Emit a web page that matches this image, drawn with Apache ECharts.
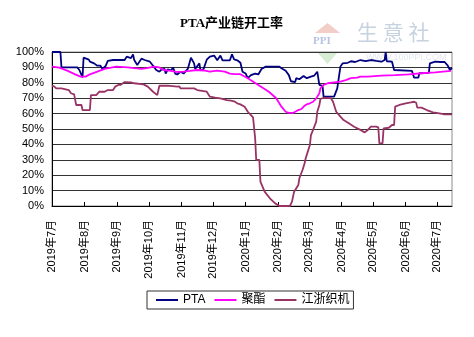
<!DOCTYPE html>
<html>
<head>
<meta charset="utf-8">
<script src="https://cdn.jsdelivr.net/npm/echarts@6/dist/echarts.min.js"></script>
<style>
html,body{margin:0;padding:0;background:#fff;}
#chart{width:474px;height:337px;}
</style>
</head>
<body>
<div id="chart"></div>
<script>
// ---- Data ----
var seriesNames = ['PTA', '聚酯', '江浙织机'];

var tickDates = ['2019-07-01','2019-08-01','2019-09-01','2019-10-01','2019-11-01','2019-12-01',
  '2020-01-01','2020-02-01','2020-03-01','2020-04-01','2020-05-01','2020-06-01','2020-07-01'];
var tickLabels = ['2019年7月','2019年8月','2019年9月','2019年10月','2019年11月','2019年12月',
  '2020年1月','2020年2月','2020年3月','2020年4月','2020年5月','2020年6月','2020年7月'];

var ptaData = [
  ['2019-07-01',100],['2019-07-09',100],['2019-07-10',90],['2019-07-25',90],['2019-07-27',88.3],
  ['2019-07-30',83.5],['2019-07-31',96.3],['2019-08-05',95],['2019-08-06',93.7],['2019-08-10',92.6],
  ['2019-08-13',91.1],['2019-08-16',91.1],['2019-08-18',89],['2019-08-21',91],['2019-08-23',94.2],
  ['2019-08-28',94.8],['2019-09-08',94.8],['2019-09-10',97],['2019-09-11',98],['2019-09-14',96],
  ['2019-09-16',98.5],['2019-09-17',95],['2019-09-20',91.5],['2019-09-24',95.7],['2019-09-27',94.8],
  ['2019-10-02',93.7],['2019-10-05',91.1],['2019-10-08',88.3],['2019-10-11',87.2],['2019-10-13',88.5],
  ['2019-10-16',89],['2019-10-17',86],['2019-10-19',88.8],['2019-10-22',88],['2019-10-24',90],
  ['2019-10-26',86],['2019-10-28',85.4],['2019-10-31',87.2],['2019-11-03',86],['2019-11-07',89],
  ['2019-11-10',96.3],['2019-11-13',92.6],['2019-11-14',89],['2019-11-18',92.6],['2019-11-19',88],
  ['2019-11-22',89],['2019-11-25',95],['2019-11-28',97],['2019-12-02',97.7],['2019-12-05',94.6],
  ['2019-12-08',97.7],['2019-12-10',94.6],['2019-12-17',94.6],['2019-12-19',98.5],['2019-12-21',95.2],
  ['2019-12-24',94.6],['2019-12-27',93],['2019-12-29',87.2],['2020-01-01',86],['2020-01-03',83],
  ['2020-01-06',85],['2020-01-10',86],['2020-01-13',85.4],['2020-01-16',89],['2020-01-20',90.5],
  ['2020-02-02',90.5],['2020-02-04',89.4],['2020-02-08',87.8],['2020-02-11',85],['2020-02-13',81],
  ['2020-02-17',80.5],['2020-02-18',83],['2020-02-21',82.3],['2020-02-25',84.4],['2020-02-28',83],
  ['2020-03-03',84],['2020-03-06',84.6],['2020-03-09',87.2],['2020-03-10',87],['2020-03-11',78.6],
  ['2020-03-14',78],['2020-03-15',71],['2020-03-25',71],['2020-03-28',76.4],['2020-03-31',90.5],
  ['2020-04-02',92.6],['2020-04-07',93],['2020-04-10',94],['2020-04-14',93.5],['2020-04-19',94.8],
  ['2020-04-24',94],['2020-04-29',94.8],['2020-05-04',94.2],['2020-05-09',93.7],['2020-05-12',94.8],
  ['2020-05-13',100],['2020-05-14',94],['2020-05-19',93.7],['2020-05-21',88.3],['2020-06-07',87.7],
  ['2020-06-09',83.3],['2020-06-13',83.3],['2020-06-14',86.2],['2020-06-23',86.5],['2020-06-24',92.6],
  ['2020-06-29',93.7],['2020-07-04',93.5],['2020-07-08',93.5],['2020-07-11',91.1],['2020-07-13',88.3],
  ['2020-07-15',89.6]
];

var polyesterData = [
  ['2019-07-01',90.5],['2019-07-08',89.8],['2019-07-16',87.7],['2019-07-23',85.5],['2019-07-28',84],
  ['2019-08-02',84],['2019-08-06',85.5],['2019-08-13',87.2],['2019-08-20',89],['2019-08-26',89.8],
  ['2019-08-31',90.5],['2019-09-11',90],['2019-09-17',89.5],['2019-09-24',89],['2019-09-29',89.5],
  ['2019-10-06',90.5],['2019-10-11',90],['2019-10-15',88.3],['2019-10-22',87.7],['2019-10-28',87],
  ['2019-11-03',87.2],['2019-11-09',87.7],['2019-11-16',88.3],['2019-11-22',88],['2019-11-28',87.2],
  ['2019-12-05',87.9],['2019-12-12',87.2],['2019-12-17',86],['2019-12-21',85.6],['2019-12-27',85.6],
  ['2020-01-03',83],['2020-01-13',78.6],['2020-01-23',74.2],['2020-01-30',70],['2020-02-04',64.5],
  ['2020-02-08',61.2],['2020-02-11',60.5],['2020-02-15',60.5],['2020-02-17',61.2],['2020-02-20',62.3],
  ['2020-02-23',63],['2020-02-26',65.1],['2020-02-28',66],['2020-03-02',66.7],['2020-03-05',67.7],
  ['2020-03-08',69.9],['2020-03-11',73.2],['2020-03-12',76.4],['2020-03-15',78.6],['2020-03-19',79.7],
  ['2020-03-25',80.3],['2020-03-31',80.7],['2020-04-05',81.8],['2020-04-10',83],['2020-04-16',83.3],
  ['2020-04-19',84],['2020-04-26',84],['2020-05-09',84.6],['2020-05-22',85],['2020-06-04',85.5],
  ['2020-06-16',86.2],['2020-06-29',86.8],['2020-07-14',87.7]
];

var weavingData = [
  ['2019-07-01',78],['2019-07-03',77.7],['2019-07-05',76.4],['2019-07-10',76.4],['2019-07-11',75.3],
  ['2019-07-17',75.3],['2019-07-19',73.2],['2019-07-22',72.5],['2019-07-23',72],['2019-07-24',65.6],
  ['2019-07-29',65.6],['2019-07-30',62.3],['2019-08-06',62.3],['2019-08-07',72],['2019-08-12',72],
  ['2019-08-15',74.2],['2019-08-20',74.2],['2019-08-23',75.3],['2019-08-28',75.3],['2019-08-30',77.5],
  ['2019-09-02',78.6],['2019-09-04',78.6],['2019-09-08',80.5],['2019-09-14',80.3],['2019-09-17',79.7],
  ['2019-09-26',79],['2019-09-30',77.5],['2019-10-05',74.2],['2019-10-09',72],['2019-10-11',78.1],
  ['2019-10-19',78.1],['2019-10-28',77.5],['2019-10-30',77.7],['2019-10-31',76.4],['2019-11-13',76.4],
  ['2019-11-16',75.3],['2019-11-25',74.2],['2019-11-28',71],['2019-12-03',70.3],['2019-12-08',69.9],
  ['2019-12-14',68.8],['2019-12-18',68.4],['2019-12-21',68],['2019-12-24',66.7],['2019-12-27',66],
  ['2019-12-31',64.5],['2020-01-03',61.2],['2020-01-06',59],['2020-01-08',57.5],['2020-01-10',44],
  ['2020-01-11',29.9],['2020-01-14',29.9],['2020-01-15',15.8],['2020-01-19',9.3],['2020-01-24',5],
  ['2020-01-29',1.7],['2020-02-02',0],['2020-02-12',0],['2020-02-14',2.8],['2020-02-16',9.3],
  ['2020-02-20',13.6],['2020-02-21',18],['2020-02-24',23.4],['2020-02-26',27.7],['2020-02-27',31],
  ['2020-02-29',35.3],['2020-03-02',39.6],['2020-03-03',46],['2020-03-05',49.4],['2020-03-06',50.4],
  ['2020-03-08',54.7],['2020-03-09',61.2],['2020-03-11',65.6],['2020-03-12',69.5],['2020-03-15',70.3],
  ['2020-03-22',70],['2020-03-24',67.7],['2020-03-27',61.2],['2020-03-28',60.6],['2020-03-31',58],
  ['2020-04-03',55.8],['2020-04-08',53.7],['2020-04-13',51.5],['2020-04-16',50.4],['2020-04-19',49.4],
  ['2020-04-23',47.8],['2020-04-26',49.4],['2020-04-29',51.5],['2020-05-04',51.5],['2020-05-06',51],
  ['2020-05-07',40.7],['2020-05-10',40.7],['2020-05-11',50.4],['2020-05-16',50.8],['2020-05-19',52.6],
  ['2020-05-21',52.6],['2020-05-22',64.5],['2020-05-26',65.6],['2020-06-01',66.7],['2020-06-06',67.3],
  ['2020-06-09',67.7],['2020-06-11',67],['2020-06-12',63.9],['2020-06-16',63.9],['2020-06-21',62.3],
  ['2020-06-27',60.8],['2020-07-03',60.2],['2020-07-08',59.5],['2020-07-15',59.5]
];

// ---- Chart ----
function toTs(s) {
  var p = s.split('-');
  return new Date(+p[0], +p[1] - 1, +p[2]).getTime();
}
function toSeries(arr) {
  return arr.map(function (d) { return [toTs(d[0]), d[1]]; });
}
var tickTs = tickDates.map(toTs);
function labelFor(v) {
  for (var i = 0; i < tickTs.length; i++) {
    if (Math.abs(tickTs[i] - v) < 43200000) return tickLabels[i];
  }
  return '';
}

var chart = echarts.init(document.getElementById('chart'), null, {renderer: 'canvas'});
var fontSans = 'Arial, "Liberation Sans", "Noto Sans CJK SC", sans-serif';

chart.setOption({
  animation: false,
  backgroundColor: '#ffffff',
  title: {
    text: 'PTA产业链开工率',
    left: 175,
    top: 12,
    textStyle: {fontSize: 13, fontWeight: 'bold', color: '#000', fontFamily: '"Liberation Serif", "Noto Sans CJK SC", serif'}
  },
  graphic: [
    {type: 'polygon', z: -1, shape: {points: [[315,33],[327.5,23],[340,33]]}, style: {fill: '#f3cdc8'}},
    {type: 'text', z: -1, left: 313, top: 36, style: {text: 'PPI', font: 'bold 11px "Liberation Serif", serif', fill: '#b7c3e3'}},
    {type: 'polygon', z: -1, shape: {points: [[317,52],[338,52],[327.5,64]]}, style: {fill: '#d6edd3'}},
    {type: 'text', z: -1, left: 357, top: 22, style: {text: '生 意 社', font: '21px "Noto Sans CJK SC", sans-serif', fill: '#c6d2e0'}},
    {type: 'text', z: -1, left: 366, top: 53, style: {text: 'WWW.100PPI.COM', font: '9px Arial, sans-serif', fill: '#e2e7ee'}}
  ],
  legend: {
    data: seriesNames,
    left: 147,
    top: 291,
    orient: 'horizontal',
    icon: 'rect',
    itemWidth: 22,
    itemHeight: 2,
    itemGap: 9,
    padding: [3, 4, 3, 9],
    borderColor: '#333',
    borderWidth: 1,
    textStyle: {fontSize: 12, color: '#000', fontFamily: fontSans}
  },
  grid: {
    left: 52, right: 22, top: 52, bottom: 131,
    show: true, borderColor: '#8c8c8c', borderWidth: 1,
    containLabel: false
  },
  xAxis: {
    type: 'value',
    min: toTs('2019-07-01'),
    max: toTs('2020-07-15'),
    axisLine: {show: true, lineStyle: {color: '#000', width: 1}},
    axisTick: {show: true, inside: true, length: 4, lineStyle: {color: '#000'}, customValues: tickTs},
    axisLabel: {
      customValues: tickTs,
      rotate: 90,
      margin: 14,
      fontSize: 11,
      color: '#000',
      fontFamily: fontSans,
      formatter: function (v) { return labelFor(v); }
    },
    splitLine: {show: false}
  },
  yAxis: {
    type: 'value',
    min: 0, max: 100, interval: 10,
    axisLine: {show: true, lineStyle: {color: '#000', width: 1}},
    axisTick: {show: false},
    axisLabel: {formatter: '{value}%', fontSize: 11, color: '#000', margin: 8, fontFamily: fontSans},
    splitLine: {show: true, lineStyle: {color: '#333', width: 1}}
  },
  series: [
    {name: seriesNames[0], type: 'line', data: toSeries(ptaData), showSymbol: false, symbol: 'none',
     lineStyle: {color: '#000080', width: 1.8}, itemStyle: {color: '#000080'}},
    {name: seriesNames[1], type: 'line', data: toSeries(polyesterData), showSymbol: false, symbol: 'none',
     lineStyle: {color: '#ff00ff', width: 1.8}, itemStyle: {color: '#ff00ff'}},
    {name: seriesNames[2], type: 'line', data: toSeries(weavingData), showSymbol: false, symbol: 'none',
     lineStyle: {color: '#993366', width: 1.8}, itemStyle: {color: '#993366'}}
  ]
});
</script>
</body>
</html>
